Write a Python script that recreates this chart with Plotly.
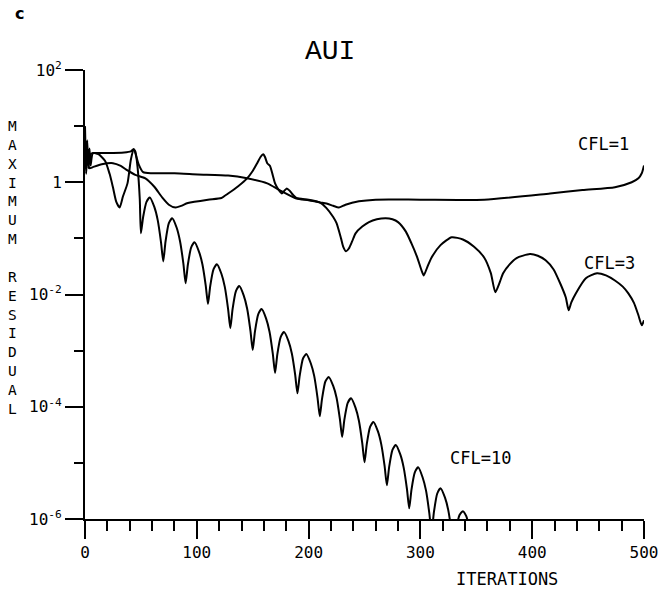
import plotly.graph_objects as go

# ---- data (iteration, log10 of maximum residual) ----
iter_cfl1 = [0, 1, 2, 3, 5, 8, 20, 35, 41, 43.5, 46, 48, 52, 60, 80, 101, 128, 145, 163, 174,
             189, 200, 210, 216, 222, 227, 233, 245, 260, 300, 357, 416, 445, 474, 489, 495,
             498, 500]
log_cfl1 = [0.75, 0.25, 0.6, 0.3, 0.5, 0.52, 0.52, 0.53, 0.55, 0.59, 0.45, 0.32, 0.18, 0.16,
            0.16, 0.14, 0.12, 0.07, -0.02, -0.14, -0.29, -0.32, -0.36, -0.38, -0.42, -0.45,
            -0.40, -0.34, -0.31, -0.31, -0.31, -0.20, -0.14, -0.09, 0.0, 0.07, 0.16, 0.30]

iter_cfl3 = [0, 1, 2, 4, 7, 15, 25, 32, 38, 45, 54, 62, 69, 75, 81, 86, 92, 110, 122, 128,
             137, 145, 150, 154, 157, 159.5, 161, 163, 165.5, 168, 170, 173, 176, 178, 180.5,
             183, 185, 189, 200, 210, 216, 222, 225, 229, 231, 233.5, 236, 239, 242, 248, 254,
             261, 269, 275, 280, 287, 292, 297, 301, 303, 306, 310, 318, 328, 338, 348, 357,
             363, 367, 371, 374, 380, 386, 398, 405, 412, 419, 425, 430, 432.6, 435, 439, 448,
             458, 466, 474, 481, 486, 491, 495, 498, 500]
log_cfl3 = [0.6, 0.15, 0.5, 0.25, 0.27, 0.32, 0.34, 0.29, 0.21, 0.13, 0.07, -0.08, -0.27,
            -0.40, -0.45, -0.42, -0.37, -0.31, -0.28, -0.20, -0.07, 0.07, 0.20, 0.34, 0.45,
            0.50, 0.45, 0.34, 0.29, 0.12, -0.02, -0.13, -0.20, -0.16, -0.11, -0.15, -0.20,
            -0.28, -0.31, -0.36, -0.46, -0.62, -0.73, -1.00, -1.15, -1.23, -1.18, -1.05, -0.91,
            -0.79, -0.71, -0.66, -0.64, -0.66, -0.71, -0.88, -1.09, -1.33, -1.57, -1.66, -1.52,
            -1.34, -1.12, -0.98, -1.02, -1.15, -1.34, -1.62, -1.96, -1.78, -1.62, -1.46, -1.35,
            -1.28, -1.31, -1.39, -1.55, -1.80, -2.05, -2.28, -2.14, -1.98, -1.71, -1.62, -1.66,
            -1.75, -1.86, -1.98, -2.15, -2.37, -2.55, -2.46]

iter_cfl10 = [0, 1, 2, 3, 4, 5, 7, 12, 18, 22, 25, 28, 31, 34, 38, 41, 43.5, 45, 47, 49,
              50, 52, 55, 58, 62, 65, 68,
              70, 72, 75, 78, 82, 85, 88,
              90, 92, 95, 98, 102, 105, 108,
              110, 112, 115, 118, 122, 125, 128,
              130, 132, 135, 138, 142, 145, 148,
              150, 152, 155, 158, 162, 165, 168,
              170, 172, 175, 178, 182, 185, 188,
              190, 192, 195, 198, 202, 205, 208,
              210, 212, 215, 218, 222, 225, 228,
              230, 232, 235, 238, 242, 245, 248,
              250, 252, 255, 258, 262, 265, 268,
              270, 272, 275, 278, 282, 285, 288,
              290, 292, 295, 298, 302, 305, 308,
              310, 312, 315, 318, 322, 325, 328,
              330, 332, 335, 338, 341, 344, 348, 352]
log_cfl10 = [1.0, 0.3, 0.75, 0.25, 0.6, 0.3, 0.52, 0.5, 0.38, 0.15, -0.09, -0.35, -0.45,
             -0.25, -0.02, 0.4, 0.59, 0.55, 0.27, -0.3,
             -0.91, -0.62, -0.35, -0.27, -0.44, -0.67, -1.07,
             -1.41, -1.06, -0.73, -0.64, -0.81, -1.05, -1.45,
             -1.80, -1.47, -1.16, -1.07, -1.24, -1.46, -1.84,
             -2.17, -1.85, -1.55, -1.46, -1.63, -1.86, -2.26,
             -2.60, -2.26, -1.94, -1.85, -2.02, -2.25, -2.65,
             -2.99, -2.66, -2.35, -2.26, -2.43, -2.66, -3.06,
             -3.40, -3.07, -2.76, -2.67, -2.83, -3.05, -3.43,
             -3.76, -3.45, -3.14, -3.06, -3.23, -3.45, -3.84,
             -4.17, -3.86, -3.55, -3.47, -3.63, -3.84, -4.22,
             -4.54, -4.23, -3.93, -3.85, -4.02, -4.25, -4.65,
             -4.99, -4.67, -4.36, -4.27, -4.44, -4.67, -5.06,
             -5.40, -5.08, -4.77, -4.68, -4.85, -5.08, -5.47,
             -5.81, -5.48, -5.17, -5.08, -5.26, -5.49, -5.90,
             -6.25, -5.89, -5.55, -5.45, -5.62, -5.85, -6.25,
             -6.6, -6.2, -5.93, -5.86, -5.95, -6.2, -6.8, -7.2]

x_tick_vals = [0, 100, 200, 300, 400, 500]
x_tick_text = ["0", "100", "200", "300", "400", "500"]
y_tick_vals = [1e2, 1, 1e-2, 1e-4, 1e-6]
y_tick_text = ["10<sup>2</sup>", "1", "10<sup>-2</sup>", "10<sup>-4</sup>", "10<sup>-6</sup>"]
y_minor_vals = [1e1, 1e-1, 1e-3, 1e-5]

curve_labels = ["CFL=1", "CFL=3", "CFL=10"]

fig = go.Figure()
for xs, ls in [(iter_cfl1, log_cfl1), (iter_cfl3, log_cfl3), (iter_cfl10, log_cfl10)]:
    fig.add_trace(go.Scatter(
        x=xs, y=[10 ** v for v in ls], mode="lines",
        line=dict(color="black", width=2, shape="spline", smoothing=0.6),
        showlegend=False, hoverinfo="skip"))

tick_font = dict(family="DejaVu Sans Mono", size=16, color="black")

fig.update_xaxes(
    range=[0, 500], showline=True, linecolor="black", linewidth=2,
    showgrid=False, zeroline=False,
    tickmode="array", tickvals=x_tick_vals, ticktext=x_tick_text,
    ticks="outside", ticklen=18, tickwidth=2, tickcolor="black",
    tickfont=tick_font,
    minor=dict(ticks="outside", dtick=20, tick0=0, ticklen=10, tickwidth=2,
               tickcolor="black", showgrid=False),
)
fig.update_yaxes(
    type="log", range=[-6, 2], showline=True, linecolor="black", linewidth=2,
    showgrid=False, zeroline=False,
    tickmode="array", tickvals=y_tick_vals, ticktext=y_tick_text,
    ticks="outside", ticklen=18, tickwidth=2, tickcolor="black",
    tickfont=tick_font,
    minor=dict(ticks="outside", tickmode="array", tickvals=y_minor_vals, ticklen=9,
               tickwidth=2, tickcolor="black", showgrid=False),
)

label_font = dict(family="DejaVu Sans Mono", size=17, color="black")
common = dict(showarrow=False, xanchor="center", yanchor="middle")
annotations = [
    dict(text="<b>c</b>", x=-0.118, y=1.125, xref="paper", yref="paper",
         font=dict(family="DejaVu Sans", size=16, color="black"), **common),
    dict(text="AUI", x=0.438, y=1.042, xref="paper", yref="paper",
         font=dict(family="Liberation Mono", size=28, color="black"), **common),
    dict(text="<br>".join(list("MAXIMUM")) + "<br> <br>" + "<br>".join(list("RESIDUAL")),
         x=-0.130, y=0.560, xref="paper", yref="paper",
         font=dict(family="DejaVu Sans Mono", size=14.5, color="black"), **common),
    dict(text="ITERATIONS", x=0.755, y=-0.134, xref="paper", yref="paper",
         font=dict(family="DejaVu Sans Mono", size=17, color="black"), **common),
    dict(text=curve_labels[0], x=464, y=0.69, xref="x", yref="y", font=label_font, **common),
    dict(text=curve_labels[1], x=469, y=-1.44, xref="x", yref="y", font=label_font, **common),
    dict(text=curve_labels[2], x=354, y=-4.92, xref="x", yref="y", font=label_font, **common),
]

fig.update_layout(
    width=670, height=590,
    margin=dict(l=85, r=17, t=70, b=71),
    plot_bgcolor="white", paper_bgcolor="white",
    annotations=annotations,
)

# remove the browser's default 8px body margin so the figure fills the window exactly
fig.write_html("out.html", config={"displayModeBar": False},
               post_script="document.body.style.margin='0px';")
